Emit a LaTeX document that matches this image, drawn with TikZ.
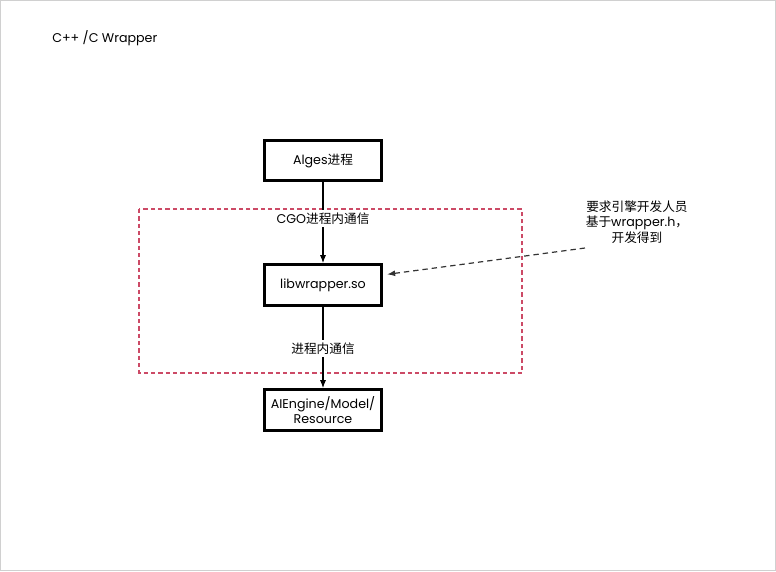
\documentclass[tikz,border=0pt]{standalone}
\usepackage{fontspec}
\setmainfont{Poppins}
\newfontfamily\cjk{Noto Sans CJK SC}
\usetikzlibrary{arrows.meta,positioning,calc}
\definecolor{frame}{HTML}{D0D0D0}
\definecolor{zone}{HTML}{CC4A66}

\begin{document}
\begin{tikzpicture}[x=0.75pt, y=-0.75pt,
    every node/.style={font=\fontsize{9.5}{12}\selectfont},
    procbox/.style={draw, line width=2.2pt, minimum width=88pt, minimum height=30.5pt, align=center, inner sep=0pt},
    flow/.style={-{Latex[length=6pt,width=4.5pt]}, line width=0.8pt}]
        \draw[frame, line width=0.8pt] (0.5,0.5) rectangle (775.5,570.5);
        \node[anchor=west, inner sep=0pt] (title) at (52,38) {C++ /C Wrapper};
        % the dashed zone round the wrapper
        \draw[zone, line width=0.8pt, dash pattern=on 3.2pt off 2.3pt] (139,209) rectangle (522,373);
        \node[procbox] (alges) at (323,160.5) {Alges{\cjk 进程}};
        \node[procbox] (wrap) at (323,285) {libwrapper.so};
        \node[procbox] (engine) at (323,410) {AIEngine/Model/\\[-1pt]Resource};
        \draw[flow] (alges) -- node[fill=white, pos=0.45, inner sep=2pt] (cgo) {CGO{\cjk 进程内通信}} (wrap);
        \draw[flow] (wrap) -- node[fill=white, pos=0.51, inner sep=2pt] (inproc) {\cjk 进程内通信} (engine);
        \node[align=center, font=\cjk\fontsize{9.5}{11.5}\selectfont] (dev) at (637,222)
          {要求引擎开发人员\\基于{\fontspec{Poppins}wrapper.h}，\\开发得到};
        \coordinate (devend) at (585,248);
        \draw[flow, black!80, line width=0.9pt, dash pattern=on 4pt off 3pt] (devend) -- ([xshift=3pt,yshift=8pt]wrap.east);
\end{tikzpicture}
\end{document}
